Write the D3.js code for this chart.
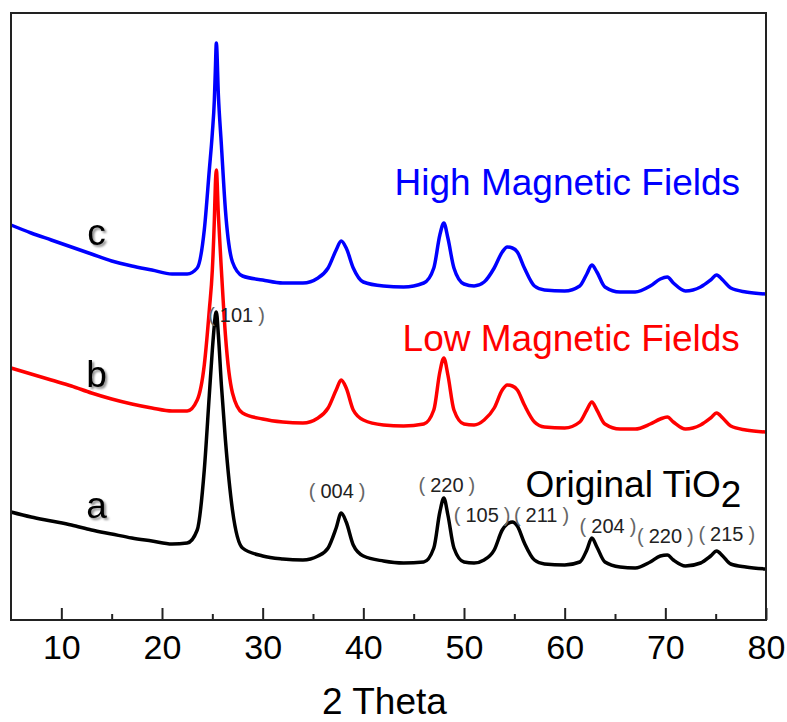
<!DOCTYPE html>
<html>
<head>
<meta charset="utf-8">
<script src="https://cdn.jsdelivr.net/npm/d3@7"></script>
<style>
  body { margin: 0; background: #fff; }
  svg text { font-family: "Liberation Sans", Arial, sans-serif; }
</style>
</head>
<body>
<div class="canvas"></div>
<script>
// 2 theta sample positions (deg), shared by the three patterns
const twoTheta = [5, 7, 9, 11, 13, 15, 17, 19, 21, 22.5, 23.5, 24.2, 24.7, 25.0, 25.2, 25.3, 25.4, 25.6, 25.9, 26.3,
  27, 28, 30, 32, 34, 35.5, 36.5, 37.3, 37.8, 38.3, 39, 40, 42, 44, 46, 47, 47.6, 48.0, 48.4, 49,
  50, 51, 52, 53, 53.8, 54.3, 54.8, 55.3, 56, 57, 58, 60, 61.5, 62.2, 62.7, 63.2, 64, 65.5, 67, 68.5,
  69.5, 70.2, 70.8, 72, 73.5, 74.5, 75.1, 75.7, 76.5, 78, 80];

// intensity (a.u., stacked)
const intensityA = [108, 103, 99, 95, 90, 86, 82, 79, 76, 77, 90, 150, 225, 270, 295, 305, 308, 285, 235, 180,
  110, 72, 64, 61, 60, 64, 72, 92, 107, 98, 75, 64, 59, 57, 58, 72, 108, 122, 105, 72,
  58, 57, 60, 70, 90, 96, 98, 94, 77, 60, 56, 55, 58, 70, 82, 73, 58, 53, 52, 58,
  64, 65, 60, 54, 57, 64, 69, 64, 56, 53, 51];

const intensityB = [252, 246, 240, 234, 227, 221, 216, 212, 209, 209, 220, 255, 310, 350, 400, 435, 450, 405, 350, 285,
  227, 207, 201, 198, 197, 202, 212, 230, 240, 232, 210, 200, 195, 194, 196, 210, 248, 262, 245, 210,
  196, 195, 200, 212, 230, 235, 234, 230, 215, 198, 193, 192, 198, 210, 218, 210, 196, 191, 191, 196,
  201, 203, 198, 191, 195, 202, 207, 202, 194, 190, 188];

const intensityC = [395, 387, 380, 373, 366, 359, 354, 350, 346, 346, 352, 390, 450, 487, 520, 550, 577, 525, 475, 410,
  358, 344, 340, 337, 337, 342, 352, 370, 379, 372, 352, 338, 334, 333, 337, 352, 385, 397, 382, 352,
  336, 334, 338, 352, 368, 373, 372, 368, 352, 334, 330, 329, 334, 346, 355, 348, 333, 328, 328, 334,
  341, 343, 337, 329, 333, 340, 345, 340, 332, 328, 326];

const seriesNames = ['a', 'b', 'c'];
const seriesColors = ['#000000', '#ff0000', '#0000ff'];
const seriesTitles = ['Original TiO', 'Low Magnetic Fields', 'High Magnetic Fields'];

// reflections: hkl, 2 theta of the label centre, intensity of the label baseline
const peakLabels = ['101', '004', '220', '105', '211', '204', '220', '215'];
const peakLabelX = [27.4, 37.4, 48.3, 51.8, 57.7, 64.3, 70.0, 76.1];
const peakLabelY = [298, 122, 128, 98, 98, 87, 77, 79];

const majorTicks = [10, 20, 30, 40, 50, 60, 70, 80];
const minorTicks = [15, 25, 35, 45, 55, 65, 75];

// svg & dimensions
const width = 787, height = 722;
const margin = {top: 13, right: 21, bottom: 102, left: 11};
const graphWidth = width - margin.left - margin.right;
const graphHeight = height - margin.top - margin.bottom;

const svg = d3.select('.canvas')
  .append('svg')
    .attr('width', width)
    .attr('height', height);

// soft shadow for the a / b / c letters
const filter = svg.append('defs').append('filter')
  .attr('id', 'shadow')
  .attr('x', '-50%').attr('y', '-50%')
  .attr('width', '200%').attr('height', '200%');
filter.append('feDropShadow')
  .attr('dx', 2).attr('dy', 2)
  .attr('stdDeviation', 1.3)
  .attr('flood-color', '#000')
  .attr('flood-opacity', 0.45);

const graph = svg.append('g')
  .attr('transform', `translate(${margin.left}, ${margin.top})`);

// scales
const x = d3.scaleLinear()
  .domain([5, 80])
  .range([0, graphWidth]);

const y = d3.scaleLinear()
  .domain([0, 607])
  .range([graphHeight, 0]);

// patterns
const line = d3.line()
  .x(d => x(d[0]))
  .y(d => y(d[1]))
  .curve(d3.curveMonotoneX);

const allSeries = [intensityA, intensityB, intensityC];
allSeries.forEach((vals, i) => {
  graph.append('path')
    .datum(twoTheta.map((t, j) => [t, vals[j]]))
    .attr('fill', 'none')
    .attr('stroke', seriesColors[i])
    .attr('stroke-width', 3.5)
    .attr('stroke-linejoin', 'round')
    .attr('d', line);
});

// series letters
const letterY = [102, 233, 375];
seriesNames.forEach((name, i) => {
  graph.append('text')
    .attr('x', x(13.5))
    .attr('y', y(letterY[i]))
    .attr('text-anchor', 'middle')
    .attr('font-size', 37)
    .attr('fill', '#000')
    .attr('filter', 'url(#shadow)')
    .text(name);
});

// sample titles
const title = graph.append('text')
  .attr('x', x(56.1))
  .attr('y', y(123))
  .attr('font-size', 37)
  .attr('fill', seriesColors[0]);
title.append('tspan').text(seriesTitles[0]);
title.append('tspan').attr('dy', 10).text('2');

graph.append('text')
  .attr('x', x(43.9))
  .attr('y', y(269))
  .attr('font-size', 37)
  .attr('fill', seriesColors[1])
  .text(seriesTitles[1]);

graph.append('text')
  .attr('x', x(43.1))
  .attr('y', y(425))
  .attr('font-size', 37)
  .attr('fill', seriesColors[2])
  .text(seriesTitles[2]);

// reflection indices, thin wide-set brackets round the digits
const peaks = graph.selectAll('.peak')
  .data(peakLabels)
  .enter()
  .append('text')
    .attr('class', 'peak')
    .attr('x', (d, i) => x(peakLabelX[i]))
    .attr('y', (d, i) => y(peakLabelY[i]))
    .attr('text-anchor', 'middle')
    .attr('font-size', 20)
    .attr('fill', '#222');
peaks.append('tspan').attr('fill', '#666').attr('font-weight', 300).text('(');
peaks.append('tspan').attr('dx', 5).text(d => d);
peaks.append('tspan').attr('dx', 5).attr('fill', '#666').attr('font-weight', 300).text(')');

// axes (ticks pointing inward)
const xAxisGroup = graph.append('g')
  .attr('transform', `translate(0, ${graphHeight})`);
xAxisGroup.call(d3.axisBottom(x)
  .tickValues(majorTicks)
  .tickSize(-12)
  .tickPadding(15)
  .tickFormat(d3.format('d')));

const minorGroup = graph.append('g')
  .attr('transform', `translate(0, ${graphHeight})`);
minorGroup.call(d3.axisBottom(x)
  .tickValues(minorTicks)
  .tickSize(-6)
  .tickFormat(''));

[xAxisGroup, minorGroup].forEach(g => {
  g.select('.domain').remove();
  g.selectAll('line').attr('stroke', '#222').attr('stroke-width', 2);
});
xAxisGroup.selectAll('text')
  .attr('font-size', 34)
  .attr('font-family', '"Liberation Sans", Arial, sans-serif')
  .attr('fill', '#000');

// frame
graph.append('rect')
  .attr('width', graphWidth)
  .attr('height', graphHeight)
  .attr('fill', 'none')
  .attr('stroke', '#222')
  .attr('stroke-width', 2);

// axis title
svg.append('text')
  .attr('x', margin.left + x(42.1))
  .attr('y', 714)
  .attr('text-anchor', 'middle')
  .attr('font-size', 37)
  .attr('fill', '#000')
  .text('2 Theta');
</script>
</body>
</html>
